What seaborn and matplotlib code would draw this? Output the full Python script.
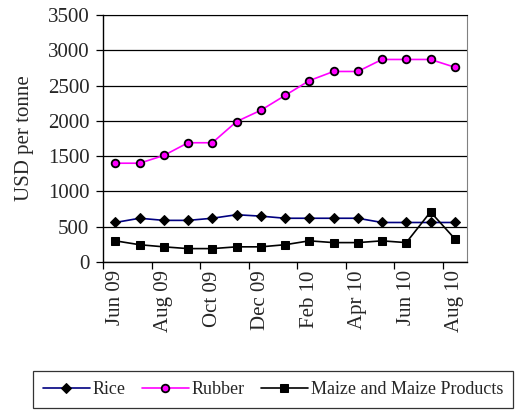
import numpy as np
import pandas as pd
import matplotlib
matplotlib.use("Agg")
import matplotlib.pyplot as plt
import seaborn as sns

months = ["Jun 09", "Jul 09", "Aug 09", "Sep 09", "Oct 09", "Nov 09", "Dec 09",
          "Jan 10", "Feb 10", "Mar 10", "Apr 10", "May 10", "Jun 10", "Jul 10", "Aug 10"]
rice = [560, 620, 590, 590, 620, 670, 650, 620, 620, 620, 620, 560, 560, 560, 560]
rubber = [1400, 1400, 1510, 1690, 1690, 1990, 2150, 2360, 2570, 2700, 2700, 2870, 2870, 2870, 2760]
maize = [300, 245, 215, 190, 190, 215, 215, 245, 300, 275, 275, 300, 275, 710, 330]

sns.set_style("white")
plt.rcParams['font.family'] = ['Liberation Serif', 'DejaVu Serif']

x = np.arange(len(months))

fig = plt.figure(figsize=(5.24, 4.11), dpi=100)
ax = fig.add_axes([0.197, 0.3625, 0.694, 0.601])

sns.lineplot(x=x, y=rice, ax=ax, color="#000080", marker="D", markersize=5,
             markerfacecolor="black", markeredgecolor="black", linewidth=1.2, label="Rice")
sns.lineplot(x=x, y=rubber, ax=ax, color="#FF00FF", marker="o", markersize=5.5,
             markerfacecolor="#FF00FF", markeredgecolor="black", markeredgewidth=1.3,
             linewidth=1.2, label="Rubber")
sns.lineplot(x=x, y=maize, ax=ax, color="black", marker="s", markersize=5.5,
             markerfacecolor="black", markeredgecolor="black", linewidth=1.2,
             label="Maize and Maize Products")

ax.set_xlim(-0.5, 14.5)
ax.set_ylim(0, 3500)
ax.set_yticks(range(0, 3501, 500))
ax.yaxis.grid(True, color="black", linewidth=0.9)
ax.set_axisbelow(True)

# tick marks between categories, labels on every other month
ax.set_xticks(np.arange(-0.5, 14, 2))
ax.set_xticklabels([])
ax.set_xticks(x[::2], minor=True)
ax.set_xticklabels(months[::2], minor=True, rotation=90, fontsize=15)
ax.tick_params(axis="x", which="major", direction="out", length=5, width=0.9, color="black", bottom=True)
ax.tick_params(axis="x", which="minor", length=0, pad=6)
ax.tick_params(axis="y", direction="out", length=5, width=0.9, color="black", labelsize=15, left=True, pad=5)

ax.set_ylabel("USD per tonne", fontsize=15, labelpad=10)

for side in ["left", "bottom"]:
    ax.spines[side].set_color("black")
    ax.spines[side].set_linewidth(1.0)
ax.spines["top"].set_color("black")
ax.spines["right"].set_color("#808080")

handles, labels = ax.get_legend_handles_labels()
ax.get_legend().remove()
leg = fig.legend(handles, labels, ncol=3, loc="upper left",
                 bbox_to_anchor=(33 / 524, 1 - 371 / 411), fontsize=13,
                 frameon=True, fancybox=False, edgecolor="black",
                 handlelength=2.6, columnspacing=0.9, handletextpad=0.15,
                 borderpad=0.55, borderaxespad=0)
leg.get_frame().set_linewidth(0.9)

fig.savefig("out.png", dpi=100)
